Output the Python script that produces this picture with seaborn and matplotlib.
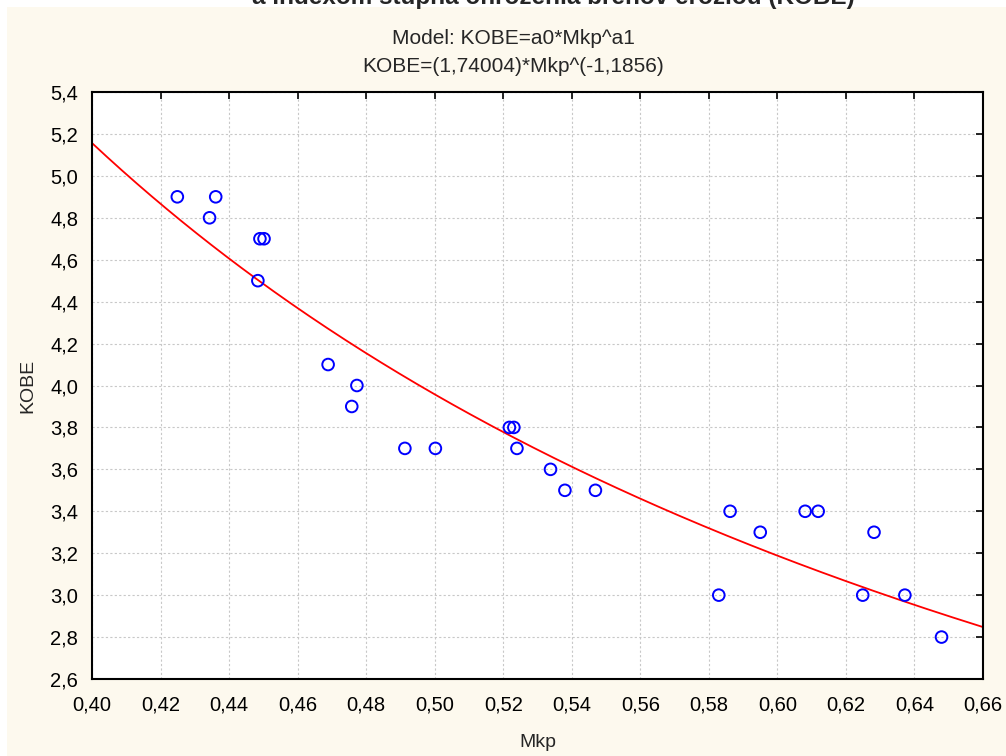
import numpy as np
import pandas as pd
import matplotlib
matplotlib.use("Agg")
import matplotlib.pyplot as plt
from matplotlib.patches import Rectangle
from matplotlib.ticker import FuncFormatter, MultipleLocator
import seaborn as sns

# ---- data ----
mkp = [0.4249, 0.4361, 0.4343, 0.4490, 0.4502, 0.4484, 0.4689, 0.4773, 0.4758,
       0.4913, 0.5002, 0.5218, 0.5231, 0.5240, 0.5338, 0.5380, 0.5469,
       0.5829, 0.5862, 0.5950, 0.6081, 0.6119, 0.6249, 0.6282, 0.6372, 0.6479]
kobe = [4.9, 4.9, 4.8, 4.7, 4.7, 4.5, 4.1, 4.0, 3.9,
        3.7, 3.7, 3.8, 3.8, 3.7, 3.6, 3.5, 3.5,
        3.0, 3.4, 3.3, 3.4, 3.4, 3.0, 3.3, 3.0, 2.8]
a0 = 1.74004
a1 = -1.1856
title_text = "a indexom stupňa ohrozenia brehov eróziou (KOBE)"
model_text = "Model: KOBE=a0*Mkp^a1"
fit_text = "KOBE=(1,74004)*Mkp^(-1,1856)"
x_label = "Mkp"
y_label = "KOBE"

sns.set_style("white")
plt.rcParams['font.family'] = ['Liberation Sans', 'DejaVu Sans']

fig = plt.figure(figsize=(10.06, 7.56), dpi=100, facecolor='white')
cream = '#FDF9EE'
fig.patches.append(Rectangle((7/1006, 0), 1, 1 - 7/756, transform=fig.transFigure,
                             facecolor=cream, edgecolor='none', zorder=-10))

ax = fig.add_axes([92/1006, 1 - 679/756, (983 - 92)/1006, (679 - 92)/756])
ax.set_facecolor('white')

df = pd.DataFrame({"Mkp": mkp, "KOBE": kobe})
xs = np.linspace(0.40, 0.66, 300)
curve = pd.DataFrame({"Mkp": xs, "KOBE": a0 * xs ** a1})

sns.lineplot(data=curve, x="Mkp", y="KOBE", ax=ax, color='#FF0000', linewidth=1.3,
             sort=False, estimator=None, zorder=2)
sns.scatterplot(data=df, x="Mkp", y="KOBE", ax=ax, marker='o', s=70,
                facecolors='none', edgecolor='#0000FF', linewidth=1.4, zorder=3)

ax.set_xlim(0.40, 0.66)
ax.set_ylim(2.6, 5.4)
ax.xaxis.set_major_locator(MultipleLocator(0.02))
ax.yaxis.set_major_locator(MultipleLocator(0.2))
ax.xaxis.set_major_formatter(FuncFormatter(lambda v, p: f"{v:.2f}".replace('.', ',')))
ax.yaxis.set_major_formatter(FuncFormatter(lambda v, p: f"{v:.1f}".replace('.', ',')))
ax.grid(True, color='#C8C8C8', linestyle=(0, (2, 2)), linewidth=0.8)
ax.tick_params(direction='in', length=5, width=1.2, top=True, right=True,
               labelsize=14.5, colors='black')
ax.tick_params(axis='x', pad=12)
ax.tick_params(axis='y', pad=10)
for s in ax.spines.values():
    s.set_color('black')
    s.set_linewidth(1.5)

ax.set_xlabel(x_label, fontsize=14, labelpad=14)
ax.set_ylabel(y_label, fontsize=14, labelpad=10)

fig.text(553/1006, 1 - 4/756, title_text, ha='center', va='baseline',
         fontsize=17.5, fontweight='bold')
fig.text(513/1006, 1 - 38/756, model_text, ha='center', va='center', fontsize=15)
fig.text(513/1006, 1 - 67/756, fit_text, ha='center', va='center', fontsize=15)

fig.savefig("out.png", dpi=100, facecolor=fig.get_facecolor())
